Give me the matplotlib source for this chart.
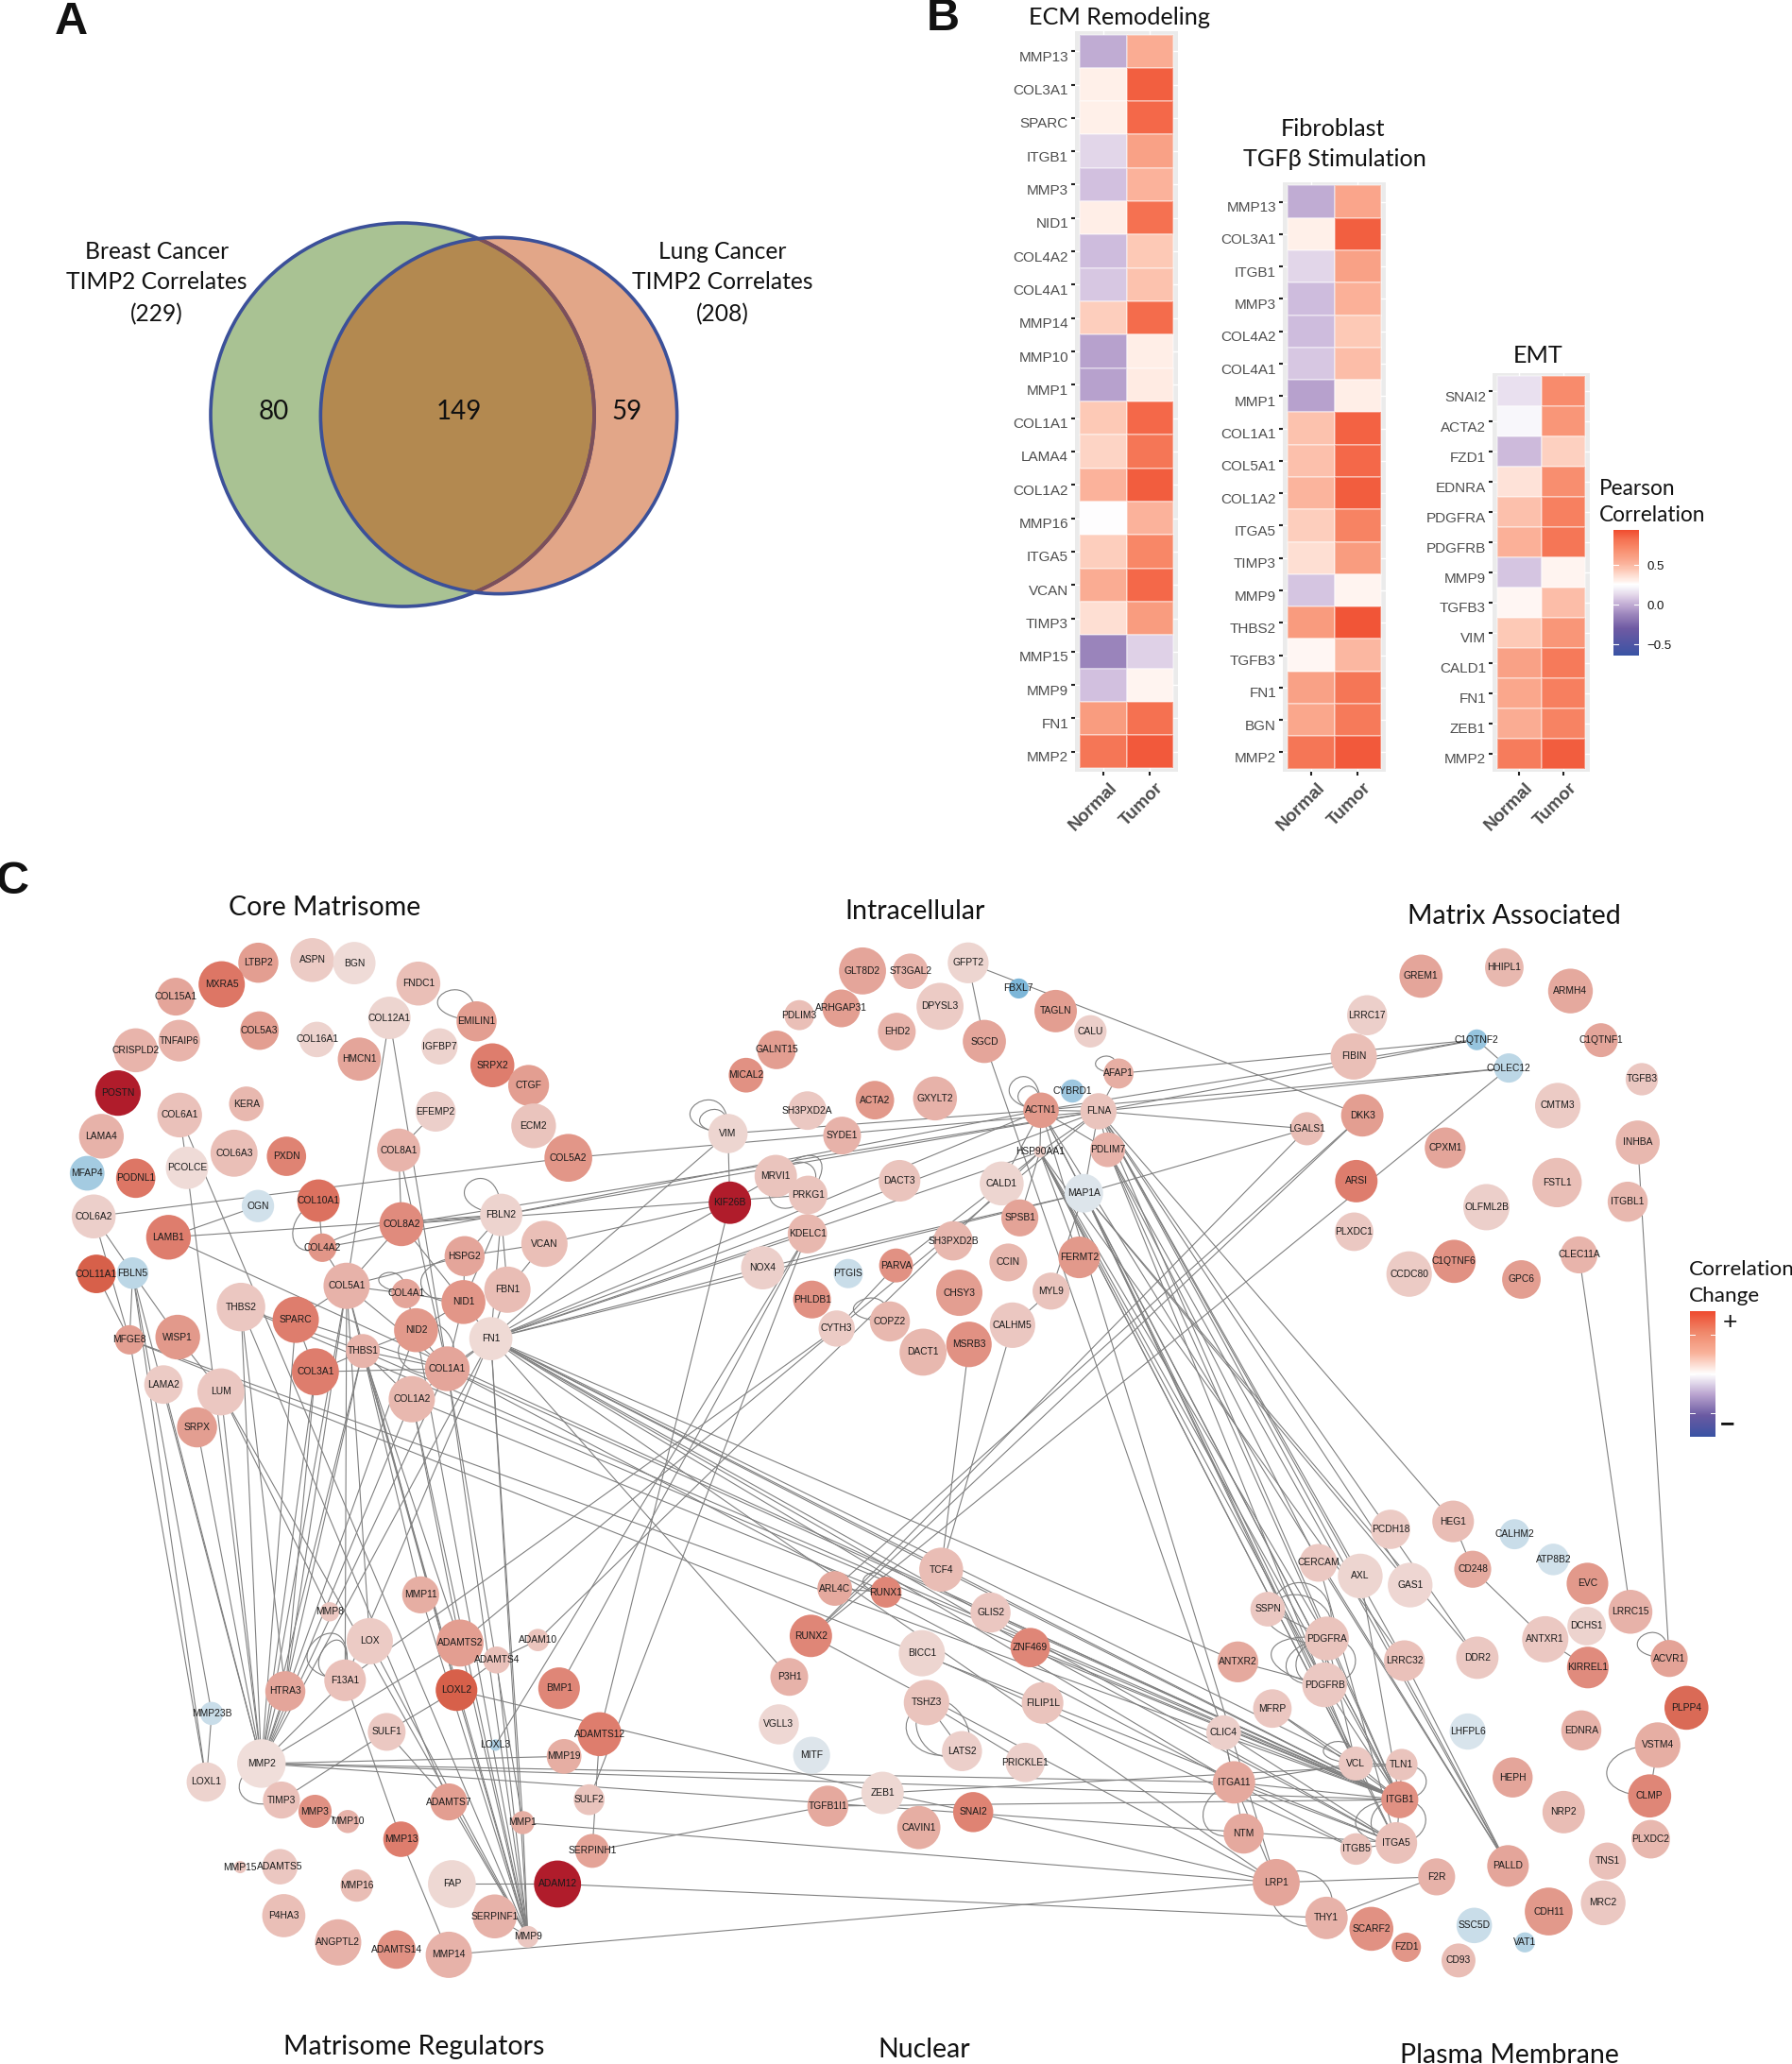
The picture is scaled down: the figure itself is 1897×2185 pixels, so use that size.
import numpy as np
import matplotlib
matplotlib.use("Agg")
import matplotlib.pyplot as plt
from matplotlib.colors import LinearSegmentedColormap, Normalize
from matplotlib.patches import Circle, PathPatch
from matplotlib.path import Path
from matplotlib.cm import ScalarMappable
from matplotlib.transforms import ScaledTranslation

W, H = 1897, 2185
TITLE_FONT = ["Lato", "Open Sans", "DejaVu Sans"]
LABEL_FONT = ["Liberation Sans", "DejaVu Sans"]

# ---------- Panel A ----------
breast_total, lung_total = 229, 208
breast_only, shared, lung_only = 80, 149, 59

# ---------- Panel B ----------
conditions = ["Normal", "Tumor"]
ecm_genes = ["MMP13","COL3A1","SPARC","ITGB1","MMP3","NID1","COL4A2","COL4A1","MMP14","MMP10","MMP1",
             "COL1A1","LAMA4","COL1A2","MMP16","ITGA5","VCAN","TIMP3","MMP15","MMP9","FN1","MMP2"]
ecm_normal = [0.0,.30,.30,.12,.06,.31,.05,.08,.42,-.03,-.03,.44,.40,.52,.25,.42,.55,.36,-.13,.06,.62,.80]
ecm_tumor = [.55,.88,.85,.60,.52,.82,.44,.46,.84,.31,.32,.85,.80,.89,.52,.72,.85,.62,.11,.29,.82,.90]
fib_genes = ["MMP13","COL3A1","ITGB1","MMP3","COL4A2","COL4A1","MMP1","COL1A1","COL5A1","COL1A2","ITGA5",
             "TIMP3","MMP9","THBS2","TGFB3","FN1","BGN","MMP2"]
fib_normal = [0.0,.30,.12,.05,.05,.08,-.03,.46,.47,.51,.42,.36,.07,.63,.28,.60,.57,.80]
fib_tumor = [.58,.88,.60,.53,.44,.48,.31,.87,.85,.89,.74,.62,.29,.91,.50,.80,.78,.90]
emt_genes = ["SNAI2","ACTA2","FZD1","EDNRA","PDGFRA","PDGFRB","MMP9","TGFB3","VIM","CALD1","FN1","ZEB1","MMP2"]
emt_normal = [.15,.22,.04,.35,.47,.53,.07,.28,.44,.60,.57,.55,.77]
emt_tumor = [.70,.65,.41,.69,.75,.80,.29,.48,.65,.78,.76,.74,.89]
pearson_ticks = [-0.5, 0.0, 0.5]

# ---------- Panel C : nodes as (name, x, y, radius, correlation change) ----------
core_nodes = [("LTBP2",670,292,52,.55),("ASPN",810,285,57,.25),("BGN",919,293,55,.12),("COL15A1",456,380,49,.5),
("MXRA5",575,348,60,.75),("FNDC1",1085,346,57,.33),("COL5A3",673,468,50,.55),("TNFAIP6",465,494,54,.4),
("COL16A1",822,491,46,.2),("COL12A1",1010,435,55,.18),("CRISPLD2",352,519,57,.4),("HMCN1",932,542,56,.5),
("EMILIN1",1236,444,52,.55),("IGFBP7",1140,509,47,.2),("SRPX2",1277,558,57,.72),("POSTN",306,630,59,1.0),
("CTGF",1371,610,53,.55),("KERA",639,658,45,.38),("COL6A1",466,687,58,.32),("EFEMP2",1130,678,52,.22),
("ECM2",1384,715,58,.3),("LAMA4",263,742,58,.42),("COL6A3",607,786,61,.33),("PXDN",743,794,51,.7),
("COL8A1",1034,778,56,.4),("COL5A2",1474,798,62,.6),("MFAP4",226,838,45,-.65),("PODNL1",352,851,51,.75),
("PCOLCE",485,824,55,.12),("OGN",669,923,42,-.35),("COL10A1",826,909,55,.78),("COL6A2",243,950,57,.22),
("COL8A2",1041,970,57,.65),("LAMB1",437,1004,58,.72),("FBLN2",1300,946,55,.2),("COL4A2",836,1031,37,.6),
("VCAN",1412,1021,60,.33),("HSPG2",1205,1053,52,.5),("COL11A1",250,1099,50,.87),("FBLN5",344,1097,41,-.5),
("COL5A1",899,1130,60,.42),("COL4A1",1053,1150,38,.5),("FBN1",1316,1140,60,.35),("NID1",1202,1172,57,.6),
("THBS2",625,1185,63,.28),("SPARC",767,1218,60,.72),("NID2",1079,1245,57,.58),("FN1",1273,1267,56,.14),
("MFGE8",336,1270,38,.55),("WISP1",461,1263,58,.58),("THBS1",941,1299,44,.4),("COL1A1",1160,1345,58,.5),
("COL3A1",818,1353,61,.72),("LAMA2",424,1386,50,.25),("COL1A2",1068,1424,60,.38),("LUM",573,1405,61,.28),
("SRPX",511,1497,52,.55)]
intra_nodes = [("GLT8D2",669,218,61,.5),("ST3GAL2",793,219,46,.4),("GFPT2",943,194,53,.18),("FBXL7",1074,270,26,-.9),
("ARHGAP31",614,329,49,.55),("PDLIM3",505,349,39,.33),("DPYSL3",870,323,61,.25),("TAGLN",1170,337,55,.55),
("EHD2",758,398,49,.4),("CALU",1260,397,42,.22),("SGCD",985,427,56,.5),("GALNT15",446,452,50,.55),
("MICAL2",367,527,45,.62),("AFAP1",1333,522,39,.45),("CYBRD1",1213,574,30,-.7),("ACTA2",701,601,50,.58),
("GXYLT2",857,596,57,.42),("SH3PXD2A",526,632,50,.27),("ACTN1",1132,631,46,.58),("FLNA",1281,634,47,.3),
("VIM",320,700,51,.18),("SYDE1",616,706,49,.42),("HSP90AA1",1129,754,15,.25),("PDLIM7",1305,748,45,.42),
("MRVI1",444,826,55,.3),("DACT3",765,840,54,.3),("PRKG1",528,882,50,.3),("CALD1",1030,848,57,.18),
("MAP1A",1243,877,50,-.25),("KIF26B",325,905,55,1.0),("SPSB1",1077,950,48,.52),("KDELC1",526,997,51,.38),
("SH3PXD2B",904,1018,51,.38),("FERMT2",1231,1067,54,.58),("CCIN",1047,1082,49,.38),("NOX4",410,1098,56,.22),
("PARVA",756,1091,44,.62),("PTGIS",632,1115,38,-.4),("CHSY3",920,1172,60,.55),("MYL9",1158,1167,48,.3),
("PHLDB1",538,1192,49,.62),("COPZ2",740,1257,52,.38),("CYTH3",602,1278,47,.25),("CALHM5",1058,1268,59,.28),
("MSRB3",945,1325,59,.62),("DACT1",826,1348,61,.38)]
matrix_nodes = [("GREM1",570,218,56,.5),("HHIPL1",794,194,50,.38),("ARMH4",972,259,58,.48),("LRRC17",425,326,52,.22),
("C1QTNF2",720,394,27,-.75),("C1QTNF1",1054,395,44,.5),("FIBIN",389,440,60,.33),("COLEC12",806,472,38,-.5),
("TGFB3",1164,503,42,.28),("CMTM3",938,576,59,.25),("DKK3",412,603,55,.55),("LGALS1",263,640,43,.35),
("CPXM1",635,693,53,.5),("INHBA",1153,678,57,.38),("ARSI",396,785,55,.72),("FSTL1",936,789,64,.33),
("OLFML2B",746,857,60,.22),("ITGBL1",1126,842,52,.38),("PLXDC1",390,925,50,.27),("CLEC11A",995,989,48,.4),
("C1QTNF6",659,1007,56,.62),("CCDC80",538,1042,59,.25),("GPC6",840,1057,50,.55)]
regulator_nodes = [("MMP11",846,322,48,.45),("MMP8",610,367,25,.28),("LOX",714,445,60,.25),("ADAMTS2",948,450,61,.55),
("ADAM10",1150,442,29,.3),("ADAMTS4",1043,495,35,.32),("F13A1",650,549,54,.32),("HTRA3",495,578,52,.5),
("LOXL2",939,575,54,.87),("BMP1",1205,570,54,.68),("MMP23B",304,637,30,-.4),("SULF1",758,686,49,.27),
("ADAMTS12",1310,692,57,.72),("LOXL3",1040,721,15,-.6),("MMP19",1218,751,45,.45),("MMP2",433,770,63,.1),
("LOXL1",290,819,51,.2),("TIMP3",485,867,48,.32),("SULF2",1283,866,40,.3),("ADAMTS7",919,872,48,.55),
("MMP3",572,897,43,.62),("MMP1",1111,927,30,.45),("MMP10",657,924,30,.42),("MMP13",795,971,46,.72),
("SERPINH1",1291,1002,44,.52),("MMP15",378,1045,16,.3),("ADAMTS5",481,1044,46,.28),("FAP",927,1090,62,.15),
("ADAM12",1201,1090,61,1.0),("MMP16",680,1094,42,.35),("P4HA3",491,1174,56,.33),("SERPINF1",1038,1176,57,.42),
("MMP9",1124,1230,28,.28),("ANGPTL2",632,1245,60,.42),("ADAMTS14",783,1264,50,.62),("MMP14",919,1278,60,.42)]
nuclear_nodes = [("TCF4",628,255,57,.35),("ARL4C",352,305,45,.48),("RUNX1",485,315,40,.68),("GLIS2",756,369,52,.28),
("RUNX2",290,431,55,.68),("BICC1",578,477,60,.18),("ZNF469",859,462,51,.68),("P3H1",234,540,49,.42),
("TSHZ3",590,608,59,.3),("FILIP1L",891,609,54,.3),("VGLL3",207,666,52,.16),("LATS2",682,737,52,.22),
("MITF",292,748,48,-.25),("PRICKLE1",846,767,51,.22),("ZEB1",476,848,55,.15),("TGFB1I1",334,883,53,.48),
("SNAI2",711,899,52,.7),("CAVIN1",570,940,56,.45)]
membrane_nodes = [("HEG1",685,127,54,.35),("PCDH18",522,148,51,.25),("CALHM2",845,161,39,-.4),("ATP8B2",946,228,41,-.35),
("CD248",736,254,48,.48),("CERCAM",334,237,49,.27),("AXL",443,272,58,.18),("EVC",1035,292,54,.58),
("GAS1",573,296,58,.17),("LRRC15",1147,367,57,.42),("SSPN",202,360,45,.28),("DCHS1",1033,405,50,.2),
("PDGFRA",356,438,57,.3),("ANTXR1",925,440,60,.27),("ACVR1",1248,491,48,.52),("LRRC32",558,497,53,.32),
("DDR2",748,489,55,.27),("ANTXR2",124,500,53,.48),("KIRREL1",1036,515,54,.65),("PDGFRB",350,561,58,.27),
("MFRP",214,624,50,.28),("PLPP4",1293,622,57,.82),("EDNRA",1019,682,52,.42),("LHFPL6",723,685,47,-.3),
("CLIC4",87,688,45,.22),("VCL",431,770,44,.27),("TLN1",551,773,41,.3),("HEPH",840,807,52,.5),
("VSTM4",1218,721,59,.45),("ITGA11",114,820,55,.48),("ITGB1",546,866,48,.62),("CLMP",1197,856,56,.68),
("NRP2",973,899,55,.35),("NTM",139,956,52,.48),("PLXDC2",1200,971,50,.38),("ITGA5",537,981,54,.32),
("ITGB5",432,997,41,.3),("TNS1",1087,1029,48,.32),("PALLD",828,1042,54,.5),("F2R",642,1071,48,.42),
("LRP1",224,1086,61,.5),("CDH11",934,1163,62,.58),("MRC2",1076,1140,58,.27),("THY1",355,1180,55,.42),
("SCARF2",472,1209,57,.62),("SSC5D",740,1200,46,-.4),("FZD1",563,1258,38,.6),("VAT1",872,1245,26,-.55),
("CD93",699,1293,44,.35)]
# each community was read on a crop: (nodes, crop left, crop top, crop width, crop height)
node_groups = [(core_nodes,0,900,640,640),(intra_nodes,640,950,640,560),(matrix_nodes,1280,950,617,600),
               (regulator_nodes,100,1560,640,625),(nuclear_nodes,740,1560,640,625),(membrane_nodes,1260,1560,637,625)]

edges = """COL12A1 COL5A1|COL12A1 COL1A1|COL8A1 EFEMP2|COL8A1 COL8A2|COL8A1 COL1A1|COL6A1 PCOLCE|COL6A1 MMP9|PCOLCE MMP2
COL6A2 FBLN5|COL6A2 MFGE8|COL6A2 COL5A2|COL5A2 FLNA|LAMB1 OGN|LAMB1 FBLN2|LAMB1 ITGB1|FBLN2 HSPG2|FBLN2 FBN1|FBLN2 NID1|FBLN2 FN1
FBLN2 COL8A2|FBLN2 COL4A2|FBLN2 FLNA|FBLN2 ACTN1|COL8A2 FLNA|COL8A2 PRKG1|VCAN FBN1|VCAN HSPG2|KIF26B VCAN|FN1 VIM|FN1 KDELC1|FN1 NOX4|FN1 FBN1|FN1 NID1
FN1 COL1A1|FN1 COL1A2|FN1 ACTN1|FN1 FLNA|FN1 HSP90AA1|FN1 MRVI1|FN1 MAP1A|NID1 COL4A1|NID1 COL1A1|NID1 COL8A2|NID1 HSPG2|NID1 NID2|NID2 COL4A1|NID2 THBS1|NID2 COL1A1
COL5A1 COL8A2|COL5A1 COL4A2|COL5A1 HSPG2|COL5A1 THBS1|COL5A1 SPARC|COL5A1 COL1A1|COL5A1 COL4A1|COL3A1 THBS1|COL3A1 SPARC|COL3A1 COL1A1
THBS2 THBS1|THBS2 MMP2|THBS2 HTRA3|THBS2 ADAMTS7|SPARC MMP2|SPARC COL1A1|COL5A1 MMP2|COL5A1 HTRA3|COL5A1 LOX|COL5A1 F13A1|COL5A1 LOXL2|COL3A1 MMP2|COL3A1 HTRA3
THBS1 MMP2|THBS1 HTRA3|THBS1 ADAMTS2|THBS1 LOXL2|THBS1 MMP9|THBS1 MMP11|THBS1 COL1A1|THBS1 COL1A2|COL1A1 MMP2|COL1A1 MMP9|COL1A1 MMP1|COL1A2 MMP2|COL1A2 MMP9|COL1A2 ADAMTS2
NID2 MMP2|NID2 MMP9|FN1 MMP2|FN1 MMP9|FN1 MMP1|FN1 F13A1|LUM MMP9|LUM MMP2|LUM MMP8|SRPX MMP2|MFGE8 LOXL1|MFGE8 ITGB1|MFGE8 ITGA5|FBLN5 LOXL1|FBLN5 MMP23B|FBLN5 MFGE8|FBLN5 WISP1|FBLN5 MMP2
WISP1 LUM|LAMA2 MMP2|COL11A1 MFGE8|COL1A2 ITGB1|THBS1 ITGB1|THBS2 ITGB1|COL1A1 ITGA11|COL1A1 ITGB1
GFPT2 DKK3|GFPT2 SGCD|SGCD CLIC4|AFAP1 FLNA|ACTN1 FLNA|ACTN1 HSP90AA1|FLNA PDLIM7|ACTN1 PDLIM7|ACTN1 MAP1A|ACTN1 CALD1|FLNA MAP1A|FLNA HSP90AA1|HSP90AA1 SPSB1|HSP90AA1 CALD1|VIM ACTN1|KIF26B VIM|KIF26B ADAMTS12
HSP90AA1 ITGB1|HSP90AA1 ITGA5|HSP90AA1 PDGFRA|HSP90AA1 PDGFRB|HSP90AA1 LRRC32|HSP90AA1 VCL|HSP90AA1 FERMT2
MAP1A ITGB1|MAP1A ITGA5|MAP1A PDGFRB|MAP1A VCL|MAP1A GAS1|MAP1A DDR2|MAP1A MYL9|FLNA ITGB1|FLNA PALLD|FLNA LRRC32|FLNA AXL|FLNA GAS1|FLNA HEG1|FLNA DDR2
ACTN1 ITGB1|ACTN1 PALLD|ACTN1 LRP1|PDLIM7 PALLD|PDLIM7 VCL|PDLIM7 CERCAM|PDLIM7 PDGFRA|MRVI1 PRKG1|NOX4 MAP1A|KDELC1 BMP1|SULF2 KDELC1|LOXL3 KDELC1|PARVA CALD1|PARVA CYTH3|CYTH3 F13A1
C1QTNF2 COLEC12|C1QTNF2 AFAP1|C1QTNF2 FLNA|C1QTNF2 ACTN1|COLEC12 FLNA|COLEC12 ACTN1|COLEC12 RUNX2|LGALS1 FLNA|LGALS1 MAP1A|LGALS1 RUNX2|DKK3 ARL4C|DKK3 RUNX2
TCF4 MSRB3|TCF4 CALHM5|MYL9 CALHM5|FN1 P3H1|FN1 TCF4|FN1 ZNF469|FN1 ITGB1|FN1 ITGA5|FN1 ITGA11|FN1 LRP1|FN1 VCL|FN1 ANTXR2
RUNX2 LRP1|BICC1 ITGB5|TCF4 ITGB1|GLIS2 ITGB1|ZNF469 ITGB1|ZNF469 ITGA5|ANTXR2 PDGFRB|MFRP ITGB1|MFRP VCL|CLIC4 ITGB1|CLIC4 ITGA11|CLIC4 ITGA5
CD248 HEG1|CD248 ANTXR1|ANTXR1 KIRREL1|VSTM4 CLMP|LRRC15 CLEC11A|ACVR1 INHBA|PALLD LRRC32|PALLD CERCAM|PDGFRA VCL|PDGFRA ITGB1|PDGFRB ITGB1|PDGFRA PDGFRB|VCL TLN1|VCL ITGB1|TLN1 ITGB1|ITGB1 ITGA5|ITGB5 ITGA5|ITGB5 ITGA11
ITGA11 ITGB1|ITGA11 ITGA5|ITGA11 NTM|ITGA11 LRP1|ITGA11 VCL|F2R LRP1|AXL ITGB1|CERCAM ITGA5
MMP2 ITGA11|MMP2 ITGB1|MMP2 ITGA5|MMP2 MMP19|MMP2 ADAMTS2|MMP2 F13A1|MMP2 HTRA3|SERPINH1 TGFB1I1|TGFB1I1 ZEB1|TGFB1I1 ITGB1|ZEB1 SNAI2|LOXL2 ZEB1|MMP1 LRP1|ADAM12 THY1|MMP14 LRP1|SNAI2 LRP1|ZEB1 TLN1|FAP ADAM12
SULF1 LOXL2|SULF1 ADAMTS7|TIMP3 SULF1|F13A1 MMP13|MMP13 MMP14|ADAMTS7 MMP9|LOX MMP9|LOXL2 MMP9|LOXL2 ADAMTS4|ADAMTS4 ADAM10|ADAMTS2 FLNA|ADAM10 HSP90AA1|MMP3 MMP10|SERPINH1 ADAMTS12|ADAMTS2 MMP9|MMP11 MMP9|ADAMTS4 MMP9|SERPINF1 MMP9|MMP1 MMP9|MMP2 TIMP3|COL10A1 COL4A2
MMP23B LOXL1|F2R THY1|PRICKLE1 TSHZ3|TSHZ3 LATS2|ARL4C RUNX1|ITGA11 CLIC4|SSPN PDGFRA"""
edge_list = [tuple(p.split()) for chunk in edges.split("\n") for p in chunk.split("|")]

# curved edges: node a, node b, first handle, second handle (handles relative to a and to b)
curved = [("EMILIN1","EMILIN1",0,-70,-93,-10),("FBLN2","FBLN2",0,-80,-88,-13),("COL4A1","COL4A1",0,-45,-65,-10),
("VIM","VIM",5,-75,-93,-10),("VIM","VIM",5,-55,-70,-5),("ACTN1","ACTN1",0,-75,-76,-10),("ACTN1","ACTN1",0,-55,-55,-5),
("AFAP1","AFAP1",0,-40,-55,-3),("COPZ2","COPZ2",0,-55,-87,-2),("RUNX1","RUNX1",0,-45,-55,-3),("VCL","VCL",-77,-5,0,-50),
("ACVR1","ACVR1",0,-60,-76,-4),("VSTM4","CLMP",-66,0,-66,0),("ITGA11","NTM",-50,16,-50,16),("LRP1","THY1",24,-32,24,-32),
("LRP1","THY1",-22,26,-22,26),("ITGB1","TLN1",36,0,36,0),("ITGB1","ITGA5",39,0,39,0),("ITGB1","ITGA5",-60,0,-60,0),
("ITGB1","ITGA5",-38,0,-38,0),("SSPN","PDGFRA",22,-54,22,-54),("SSPN","PDGFRA",22,-35,22,-35),("SSPN","PDGFRA",-16,17,-16,17),
("PDGFRA","PDGFRB",-77,-11,-77,-11),("PDGFRA","PDGFRB",-56,5,-56,5),("PDGFRA","PDGFRB",-42,3,-42,3),("PDGFRA","PDGFRB",42,0,42,0),
("TSHZ3","LATS2",-47,20,-47,20),("TSHZ3","LATS2",-30,23,-30,23),("TSHZ3","LATS2",24,-17,24,-17),("MRVI1","PRKG1",35,-40,35,-40),
("MRVI1","PRKG1",24,-30,24,-30),("MRVI1","PRKG1",-22,29,-22,29),("F13A1","F13A1",-100,-10,20,-107),("F13A1","F13A1",-70,0,15,-96),
("MMP2","TIMP3",-43,17,-43,17),("COL10A1","COL4A2",-39,16,-39,16),("COL4A2","COL8A2",0,-8,0,-8),("HSPG2","NID1",-61,4,-61,4),
("NID2","COL1A1",22,-24,22,-24),("NID2","COL1A1",-41,19,-41,19)]

change_stops = [(-1,"#6FB0D6"),(-.5,"#BCD7E6"),(-.3,"#D8E4EC"),(0,"#F2E8E5"),(.2,"#EDD3CE"),(.4,"#E8B5AC"),(.55,"#E39F92"),
                (.7,"#DF8374"),(.8,"#DB6D5A"),(.88,"#D75F49"),(1,"#B01C2B")]
node_cmap = LinearSegmentedColormap.from_list("node", [((v+1)/2, c) for v, c in change_stops])
pearson_stops = [(-.64,"#3A53A4"),(-.3,"#6F5AA3"),(-.13,"#9A84BB"),(-.03,"#B8A2CE"),(.05,"#CFBDDD"),(.12,"#E2D5E9"),(.22,"#F8F7FB"),
                 (.26,"#FFFFFF"),(.30,"#FFF0EA"),(.36,"#FEE0D5"),(.44,"#FDC8B5"),(.52,"#FBB29B"),(.62,"#F99D80"),(.72,"#F88868"),
                 (.82,"#F57252"),(.94,"#F04E30")]
vlo, vhi = -.64, .94
heat_cmap = LinearSegmentedColormap.from_list("heat", [((v-vlo)/(vhi-vlo), c) for v, c in pearson_stops])
heat_norm = Normalize(vlo, vhi)

fig = plt.figure(figsize=(W/100, H/100), dpi=100)
ax = fig.add_axes([0, 0, 1, 1])
ax.set_xlim(0, W); ax.set_ylim(H, 0); ax.axis("off")


def axes_px(x0, y0, x1, y1):
    return fig.add_axes([x0/W, 1-y1/H, (x1-x0)/W, (y1-y0)/H])


def title(x, y, s, size=18.2, ha="center", **kw):
    ax.text(x, y, s, fontsize=size, family=TITLE_FONT, ha=ha, va="center", color="#111111", zorder=6, **kw)


# ---- panel letters
for s, x, y in [("A", 75, 23), ("B", 998, 20), ("C", 14, 934)]:
    ax.text(x, y, s, fontsize=35, family=LABEL_FONT, fontweight="bold", ha="center", va="center", color="#111111")

# ---- Venn
k = 203/np.sqrt(breast_total)
c1, c2 = (426, 439), (528, 440)
r1, r2 = k*np.sqrt(breast_total), k*np.sqrt(lung_total)*0.975
VENN_EDGE = "#3B5099"
ax.add_patch(Circle(c1, r1, fc="#A9C293", ec="none", zorder=1))
ax.add_patch(Circle(c2, r2, fc="#E2A688", ec="none", zorder=1))
ov = Circle(c2, r2, fc="#B38950", ec="none", zorder=1)
ax.add_patch(ov)
ov.set_clip_path(Circle(c1, r1, transform=ax.transData))
ax.add_patch(Circle(c1, r1, fc="none", ec=VENN_EDGE, lw=2.6, zorder=2))
inner = ax.add_patch(Circle(c1, r1, fc="none", ec="#7C4F5A", lw=2.8, zorder=3))
inner.set_clip_path(Circle(c2, r2, transform=ax.transData))
ax.add_patch(Circle(c2, r2, fc="none", ec=VENN_EDGE, lw=2.6, zorder=4))
for s, x, y, size in [("Breast Cancer", 166, 267, 17.7), ("TIMP2 Correlates", 166, 299, 17.7), (f"({breast_total})", 166, 333, 17.7),
                ("Lung Cancer", 765, 267, 17.7), ("TIMP2 Correlates", 765, 299, 17.7), (f"({lung_total})", 765, 333, 17.7),
                (str(breast_only), 290, 436, 20), (str(shared), 486, 436, 20), (str(lung_only), 664, 436, 20)]:
    title(x, y, s, size=size)


# ---- heatmaps
def heatmap(genes, normal, tumor, x0, x1, y0, y1):
    a = axes_px(x0, y0, x1, y1)
    Z = np.column_stack([normal, tumor])
    n = len(genes)
    a.set_facecolor("#EBEBEB")
    a.pcolormesh(np.arange(3)+.5, np.arange(n+1)+.5, Z, cmap=heat_cmap, norm=heat_norm,
                 edgecolors=(1, 1, 1, .35), linewidth=.3, zorder=2)
    a.set_xlim(.4, 2.6); a.set_ylim(n+.6, .4)
    a.set_xticks([1, 2]); a.set_yticks(range(1, n+1))
    a.grid(color="white", lw=1, zorder=0); a.set_axisbelow(True)
    a.set_yticklabels(genes, fontsize=11, family=LABEL_FONT, color="#4D4D4D")
    a.set_xticklabels(conditions, fontsize=13.5, family=LABEL_FONT, color="#4D4D4D", fontweight="bold",
                      rotation=45, ha="right", va="top", rotation_mode="anchor")
    a.tick_params(axis="y", length=3, width=1.5, pad=2, color="#222222")
    a.tick_params(axis="x", length=3, width=1.5, pad=3, color="#222222")
    off = ScaledTranslation(0, -5/100, fig.dpi_scale_trans)
    for lab in a.get_yticklabels():
        lab.set_transform(lab.get_transform()+off)
    off2 = ScaledTranslation(6/100, 0, fig.dpi_scale_trans)
    for lab in a.get_xticklabels():
        lab.set_transform(lab.get_transform()+off2)
    for s in a.spines.values():
        s.set_visible(False)


heatmap(ecm_genes, ecm_normal, ecm_tumor, 1138, 1247, 33, 817)
heatmap(fib_genes, fib_normal, fib_tumor, 1358, 1467, 193, 817)
heatmap(emt_genes, emt_normal, emt_tumor, 1580, 1683, 395, 817)
title(1185, 18, "ECM Remodeling")
title(1411, 137, "Fibroblast")
title(1413, 169, "TGFβ Stimulation")
title(1628, 377, "EMT")
title(1693, 518, "Pearson", size=16.3, ha="left")
title(1693, 546, "Correlation", size=16.3, ha="left")

# Pearson colour bar
cax = axes_px(1708, 561, 1735, 694)
cb = fig.colorbar(ScalarMappable(norm=heat_norm, cmap=heat_cmap), cax=cax, ticks=pearson_ticks)
cb.outline.set_visible(False)
cb.ax.tick_params(length=0, pad=6)
cb.ax.set_yticklabels(["−0.5", "0.0", "0.5"], fontsize=9.5, family=LABEL_FONT, color="#111111")
for t in pearson_ticks:
    cax.plot([0, .2], [t, t], color="white", lw=.8, transform=cax.get_yaxis_transform())
    cax.plot([.8, 1], [t, t], color="white", lw=.8, transform=cax.get_yaxis_transform())

# ---- network
pos = {}
for nodes, ox, oy, cw, ch in node_groups:
    sx, sy = 1568/cw, 1568/ch
    for name, x, y, r, v in nodes:
        pos[name] = (ox+x/sx, oy+y/sy, r/2.45, v)

EDGE_COL, EDGE_LW = "#808080", 0.8
for a_, b_ in edge_list:
    ax.plot([pos[a_][0], pos[b_][0]], [pos[a_][1], pos[b_][1]], color=EDGE_COL, lw=EDGE_LW, zorder=5, solid_capstyle="butt")
for a_, b_, dx1, dy1, dx2, dy2 in curved:
    A = pos[a_][:2]; B = pos[b_][:2]
    verts = [A, (A[0]+dx1, A[1]+dy1), (B[0]+dx2, B[1]+dy2), B]
    ax.add_patch(PathPatch(Path(verts, [Path.MOVETO, Path.CURVE4, Path.CURVE4, Path.CURVE4]),
                           fc="none", ec=EDGE_COL, lw=EDGE_LW, zorder=5))
for name, (x, y, r, v) in pos.items():
    ax.add_patch(Circle((x, y), r, fc=node_cmap((v+1)/2), ec="none", zorder=6))
for name, (x, y, r, v) in pos.items():
    ax.text(x, y, name, fontsize=7.4, family=LABEL_FONT, ha="center", va="center", color="#1A1A1A", zorder=7)

for x, y, s in [(344, 961, "Core Matrisome"), (969, 965, "Intracellular"), (1603, 970, "Matrix Associated"),
                (438, 2167, "Matrisome Regulators"), (978, 2170, "Nuclear"), (1598, 2176, "Plasma Membrane")]:
    title(x, y, s, size=20.5)
title(1788, 1344, "Correlation", size=16.2, ha="left")
title(1788, 1372, "Change", size=16.2, ha="left")

# change colour bar
bar = axes_px(1789, 1388, 1816, 1521)
grad = np.linspace(1, -1, 256)[:, None]
bar_cmap = LinearSegmentedColormap.from_list("bar", ["#3A53A4", "#6A5AA2", "#B9A3CF", "#FFFFFF", "#F9B29B", "#F0886B", "#EE4B30"])
bar.imshow(grad, cmap=bar_cmap, vmin=-1, vmax=1, aspect="auto", extent=[0, 1, -1, 1])
bar.set_xticks([]); bar.set_yticks([])
for s in bar.spines.values():
    s.set_visible(False)
for t in [.62, 0, -.62]:
    bar.plot([0, .2], [t, t], color="white", lw=.7)
    bar.plot([.8, 1], [t, t], color="white", lw=.7)
bar.set_xlim(0, 1); bar.set_ylim(-1, 1)
ax.text(1831, 1400, "+", fontsize=19, family=LABEL_FONT, ha="center", va="center", color="#111111")
ax.text(1829, 1508, "−", fontsize=19, family=LABEL_FONT, ha="center", va="center", color="#111111", fontweight="bold")

fig.savefig("out.png", dpi=100, facecolor="white")
